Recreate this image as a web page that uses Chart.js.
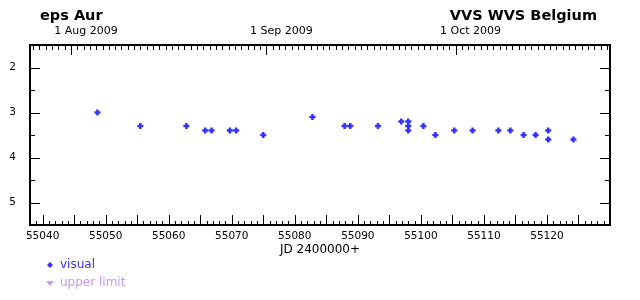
<!DOCTYPE html>
<html>
<head>
<meta charset="utf-8">
<script src="https://cdn.jsdelivr.net/npm/chart.js@4/dist/chart.umd.min.js"></script>
<style>
  html, body { margin: 0; padding: 0; background: #fff; }
  canvas { display: block; }
</style>
</head>
<body>
<canvas id="myChart" width="640" height="300"></canvas>
<script>
const jd = [55048.7, 55055.5, 55062.8, 55065.8, 55066.8, 55069.7, 55070.7, 55075.0, 55082.8,
  55087.9, 55088.8, 55093.2, 55096.9, 55098.0, 55098.0, 55098.0, 55100.4, 55102.3,
  55105.3, 55108.2, 55112.3, 55114.2, 55116.3, 55118.2, 55120.2, 55120.2, 55124.2];
const mag = [3.0, 3.3, 3.3, 3.4, 3.4, 3.4, 3.4, 3.5, 3.1,
  3.3, 3.3, 3.3, 3.2, 3.2, 3.3, 3.4, 3.3, 3.5,
  3.4, 3.4, 3.4, 3.4, 3.5, 3.5, 3.4, 3.6, 3.6];

const xLabels = [55040, 55050, 55060, 55070, 55080, 55090, 55100, 55110, 55120];
const yLabels = [2, 3, 4, 5];
const dateLabels = ["1 Aug 2009", "1 Sep 2009", "1 Oct 2009"];
const dateJD = [55044.5, 55075.5, 55105.5];

const FONT = "'DejaVu Sans', Verdana, sans-serif";

const frame = {
  id: "frame",
  afterDraw(chart) {
    const ctx = chart.ctx;
    const a = chart.chartArea;
    const x = chart.scales.x, y = chart.scales.y;
    ctx.save();
    ctx.strokeStyle = "#000";
    ctx.lineWidth = 1;
    ctx.beginPath();
    // bottom ticks: every day, longer every 5
    for (let d = Math.ceil(x.min); d <= x.max; d++) {
      const px = Math.round(x.getPixelForValue(d)) + 0.5;
      const len = d % 5 == 0 ? 10 : 4;
      ctx.moveTo(px, a.bottom);
      ctx.lineTo(px, a.bottom - len);
    }
    // top ticks: every day at 0h UT, longer at month starts
    for (let d = Math.ceil(x.min) + 0.5; d <= x.max; d++) {
      const px = Math.round(x.getPixelForValue(d)) + 0.5;
      const len = dateJD.includes(d) ? 10 : 5;
      ctx.moveTo(px, a.top);
      ctx.lineTo(px, a.top + len);
    }
    // y ticks both sides
    for (let m = 1.5; m <= 5.5; m += 0.5) {
      const py = Math.round(y.getPixelForValue(m)) + 0.5;
      const len = m % 1 == 0 ? 10 : 5;
      ctx.moveTo(a.left, py);
      ctx.lineTo(a.left + len, py);
      ctx.moveTo(a.right, py);
      ctx.lineTo(a.right - len, py);
    }
    ctx.stroke();
    ctx.lineWidth = 2;
    ctx.strokeRect(a.left, a.top, a.right - a.left, a.bottom - a.top);

    ctx.fillStyle = "#000";
    ctx.textBaseline = "middle";
    ctx.font = "bold 14.5px " + FONT;
    ctx.textAlign = "left";
    ctx.fillText("eps Aur", 40, 16);
    ctx.textAlign = "right";
    ctx.fillText("VVS WVS Belgium", 597, 16);

    ctx.font = "11px " + FONT;
    ctx.textAlign = "center";
    for (let i = 0; i < dateLabels.length; i++) {
      ctx.fillText(dateLabels[i], x.getPixelForValue(dateJD[i]) + 15, 31);
    }
    ctx.font = "12px " + FONT;
    ctx.fillText("JD 2400000+", (a.left + a.right) / 2, 250);

    // legend
    ctx.textAlign = "left";
    ctx.fillStyle = "#3333ff";
    ctx.beginPath();
    ctx.moveTo(50, 262); ctx.lineTo(53, 265); ctx.lineTo(50, 268); ctx.lineTo(47, 265);
    ctx.fill();
    ctx.fillText("visual", 60, 265);
    ctx.fillStyle = "#c797ff";
    ctx.beginPath();
    ctx.moveTo(46, 281); ctx.lineTo(54, 281); ctx.lineTo(50, 286);
    ctx.fill();
    ctx.fillText("upper limit", 60, 283);
    ctx.restore();
  }
};

const config = {
  type: "scatter",
  data: {
    datasets: [{
      label: "visual",
      data: jd.map((v, i) => ({ x: v, y: mag[i] })),
      pointStyle: "cross",
      radius: 3,
      borderWidth: 2.5,
      borderColor: "#3333ff",
      backgroundColor: "#3333ff",
    }],
  },
  plugins: [frame],
  options: {
    responsive: false,
    animation: false,
    events: [],
    layout: { padding: { top: 45, right: 30, left: 0, bottom: 0 } },
    plugins: { legend: { display: false }, tooltip: { enabled: false } },
    scales: {
      x: {
        type: "linear",
        min: 55038,
        max: 55130,
        grid: { display: false, drawTicks: false },
        border: { display: false },
        afterFit: (s) => { s.height = 75; },
        afterBuildTicks: (s) => { s.ticks = xLabels.map((v) => ({ value: v })); },
        ticks: {
          maxRotation: 0,
          autoSkip: false,
          padding: 5,
          color: "#000",
          font: { family: FONT, size: 10.5 },
          callback: (v) => String(v),
        },
      },
      y: {
        type: "linear",
        reverse: true,
        min: 1.5,
        max: 5.5,
        grid: { display: false, drawTicks: false },
        border: { display: false },
        afterFit: (s) => { s.width = 30; },
        afterBuildTicks: (s) => { s.ticks = yLabels.map((v) => ({ value: v })); },
        ticks: {
          padding: 14,
          color: "#000",
          font: { family: FONT, size: 10.5 },
        },
      },
    },
  },
};

const myChart = new Chart(document.getElementById("myChart"), config);
</script>
</body>
</html>
